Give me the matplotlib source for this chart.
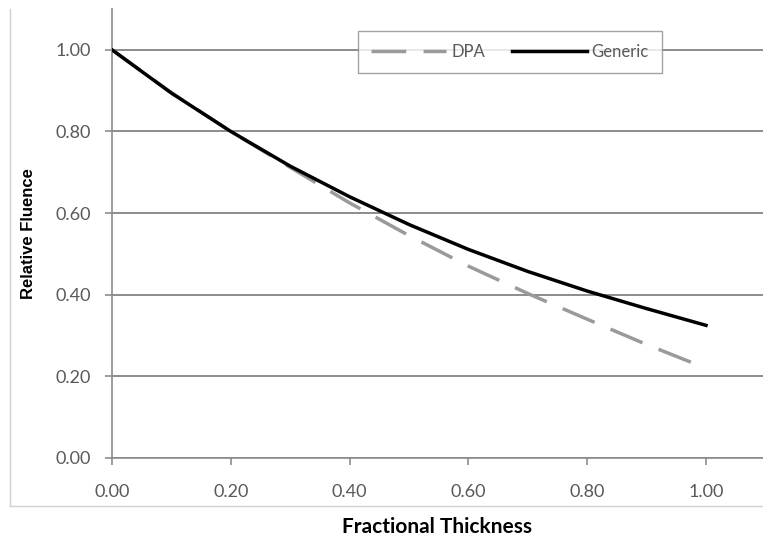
import matplotlib.pyplot as plt
from matplotlib.lines import Line2D

thickness = [0.0, 0.1, 0.2, 0.3, 0.4, 0.5, 0.6, 0.7, 0.8, 0.9, 1.0]
dpa = [1.0, 0.895, 0.80, 0.712, 0.625, 0.545, 0.470, 0.403, 0.340, 0.278, 0.220]
generic = [1.0, 0.894, 0.80, 0.715, 0.640, 0.572, 0.511, 0.457, 0.409, 0.366, 0.325]

xticks = [0.0, 0.2, 0.4, 0.6, 0.8, 1.0]
yticks = [0.0, 0.2, 0.4, 0.6, 0.8, 1.0]

fig = plt.figure(figsize=(7.63, 5.39), dpi=100)
ax = fig.add_axes([112/763, 1 - 458/539, 1 - 112/763, (458 - 9)/539])

grid_c = "#8c8c8c"
tick_c = "#595959"

ax.plot(thickness, dpa, color="#9a9a9a", lw=2.5, dashes=(10, 5), label="DPA", zorder=3)
ax.plot(thickness, generic, color="black", lw=2.5, label="Generic", zorder=4)

ax.set_xlim(0, (763 - 112)/594)
ax.set_ylim(0, 1.1)
ax.set_xticks(xticks)
ax.set_yticks(yticks)
ax.set_xticklabels(["%.2f" % v for v in xticks])
ax.set_yticklabels(["%.2f" % v for v in yticks])
ax.yaxis.grid(True, color=grid_c, lw=1.4)
ax.set_axisbelow(True)
for s in ["top", "right"]:
    ax.spines[s].set_visible(False)
for s in ["left", "bottom"]:
    ax.spines[s].set_color(grid_c)
    ax.spines[s].set_linewidth(1.2)

ax.tick_params(axis="both", colors=grid_c, length=5, width=1.2, direction="out")
ax.tick_params(axis="x", pad=14, labelcolor=tick_c, labelsize=13)
ax.tick_params(axis="y", pad=10, labelcolor=tick_c, labelsize=13)
for lbl in ax.get_xticklabels() + ax.get_yticklabels():
    lbl.set_family("Lato")

ax.set_xlabel("Fractional Thickness", family="Lato", fontweight="bold", fontsize=15, labelpad=12)
ax.set_ylabel("Relative Fluence", family="Liberation Sans", fontweight="bold", fontsize=12, labelpad=14)

leg = ax.legend(loc="center", bbox_to_anchor=((510 - 112)/651, (458 - 52)/449), ncol=2,
                frameon=True, fancybox=False, handlelength=4.5, handletextpad=0.3,
                columnspacing=1.6, prop={"family": "Lato", "size": 12}, borderpad=0.8)
leg.get_frame().set_edgecolor(grid_c)
leg.get_frame().set_linewidth(1.0)
for t in leg.get_texts():
    t.set_color(tick_c)

# outer chart border
fig.add_artist(Line2D([10/763, 10/763], [1 - 506/539, 1 - 9/539], color="#d0d0d0", lw=1))
fig.add_artist(Line2D([10/763, 1], [1 - 506/539, 1 - 506/539], color="#d0d0d0", lw=1))

fig.savefig("out.png", dpi=100)
